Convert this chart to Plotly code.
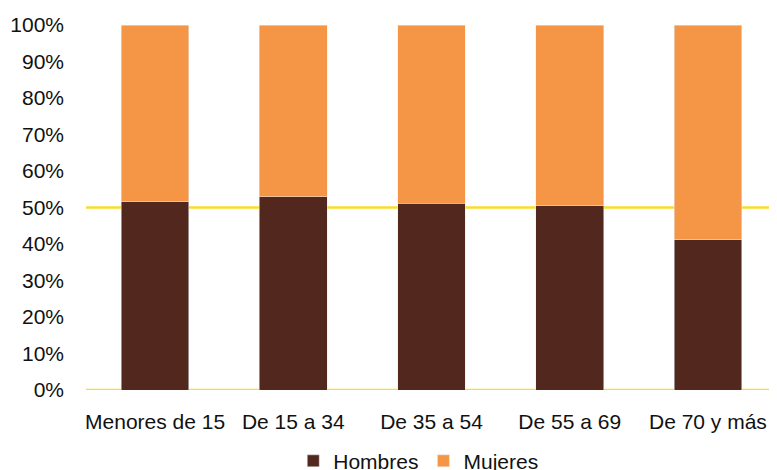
import plotly.graph_objects as go

categories = ["Menores de 15", "De 15 a 34", "De 35 a 54", "De 55 a 69", "De 70 y más"]
hombres = [51.6, 53.0, 51.1, 50.5, 41.2]
mujeres = [48.4, 47.0, 48.9, 49.5, 58.8]

brown = "#52271E"
orange = "#F59646"
yellow = "#F8DE2A"
font = "Liberation Sans, Arial, Helvetica, sans-serif"

fig = go.Figure()
fig.add_trace(go.Bar(x=categories, y=hombres, name="Hombres", marker_color=brown, width=0.49))
fig.add_trace(go.Bar(x=categories, y=mujeres, name="Mujeres", marker_color=orange, width=0.49))

for yv in [0, 50]:
    fig.add_shape(type="line", xref="paper", yref="y", x0=0, x1=1, y0=yv, y1=yv,
                  line=dict(color=yellow, width=2.5), layer="below")

# page body has an 8px default margin, so the figure is laid out 8px up/left
fig.update_layout(
    barmode="stack",
    width=777, height=470,
    margin=dict(l=78, r=8, t=17, b=88, autoexpand=False),
    plot_bgcolor="white", paper_bgcolor="white",
    font=dict(family=font, size=21, color="#111111"),
    showlegend=True,
    legend=dict(orientation="h", xref="container", yref="paper",
                x=0.528, xanchor="center", y=-0.195, yanchor="middle",
                bgcolor="rgba(0,0,0,0)",
                font=dict(size=21), itemwidth=30, traceorder="normal"),
    xaxis=dict(showgrid=False, showline=False, zeroline=False, ticklabelstandoff=17,
               automargin=False),
    yaxis=dict(range=[0, 100], tickvals=list(range(0, 101, 10)),
               ticktext=[f"{v}%" for v in range(0, 101, 10)],
               showgrid=False, zeroline=False, showline=False, ticklabelstandoff=21,
               automargin=False),
)

fig.write_html("out.html")
